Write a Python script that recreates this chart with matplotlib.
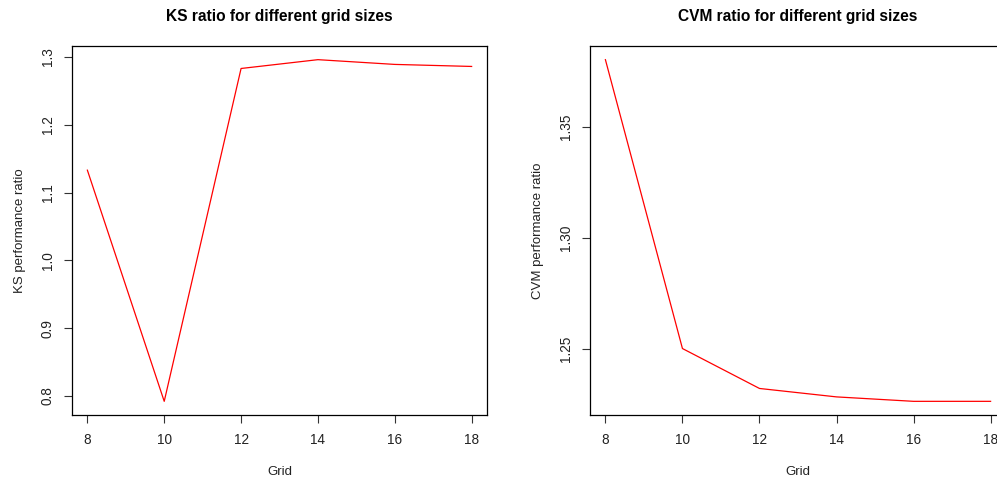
import matplotlib
matplotlib.use("Agg")
import matplotlib.pyplot as plt
import numpy as np

grid = [8, 10, 12, 14, 16, 18]
ks_ratio = [1.133, 0.792, 1.283, 1.296, 1.289, 1.286]
cvm_ratio = [1.3802, 1.2500, 1.2320, 1.2282, 1.2262, 1.2262]

x_ticks = [8, 10, 12, 14, 16, 18]
ks_yticks = [0.8, 0.9, 1.0, 1.1, 1.2, 1.3]
ks_yticklabels = ["0.8", "0.9", "1.0", "1.1", "1.2", "1.3"]
cvm_yticks = [1.25, 1.30, 1.35]
cvm_yticklabels = ["1.25", "1.30", "1.35"]

plt.rcParams['font.family'] = ['Liberation Sans', 'DejaVu Sans']

W, H = 997, 479
fig = plt.figure(figsize=(W / 100, H / 100), dpi=100)

def r_range(v):
    lo, hi = min(v), max(v)
    d = (hi - lo) * 0.04
    return lo - d, hi + d

def make_panel(rect, y, yticks, yticklabels, title, ylabel):
    ax = fig.add_axes(rect)
    ax.plot(grid, y, color='#FF0000', lw=0.9)
    ax.set_xlim(*r_range(grid))
    ax.set_ylim(*r_range(y))
    ax.set_xticks(x_ticks)
    ax.set_xticklabels([str(t) for t in x_ticks])
    ax.set_yticks(yticks)
    ax.set_yticklabels(yticklabels, rotation=90, va='center')
    for s in ax.spines.values():
        s.set_linewidth(0.9)
        s.set_color('black')
    ax.tick_params(direction='out', length=6, width=0.8, color='#333333',
                   labelsize=9.8, labelcolor='#222222')
    ax.tick_params(axis='x', pad=7)
    ax.tick_params(axis='y', pad=6.5)
    ax.set_title(title, fontsize=11.2, fontweight='bold', pad=18)
    ax.set_xlabel('Grid', fontsize=9.5, labelpad=13.5, color='#222222')
    ax.set_ylabel(ylabel, fontsize=9.5, labelpad=10.5, color='#222222')
    return ax

make_panel([72 / W, 1 - 415 / H, 415 / W, 369 / H], ks_ratio, ks_yticks, ks_yticklabels,
           'KS ratio for different grid sizes', 'KS performance ratio')
make_panel([590 / W, 1 - 415 / H, 416 / W, 369 / H], cvm_ratio, cvm_yticks, cvm_yticklabels,
           'CVM ratio for different grid sizes', 'CVM performance ratio')

fig.savefig('out.png', dpi=100)
